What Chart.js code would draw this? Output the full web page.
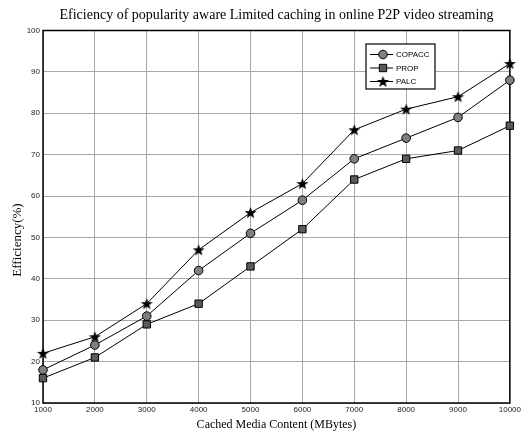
<!DOCTYPE html>
<html>
<head>
<meta charset="utf-8">
<script src="https://cdn.jsdelivr.net/npm/chart.js@4/dist/chart.umd.min.js"></script>
<style>
    html, body { margin: 0; padding: 0; background: #fff; }
    #wrap { width: 523px; height: 432px; }
</style>
</head>
<body>
<div id="wrap"><canvas id="c" width="523" height="432"></canvas></div>
<script>
const cacheSizes = ['1000', '2000', '3000', '4000', '5000', '6000', '7000', '8000', '9000', '10000'];
const copacc = [18, 24, 31, 42, 51, 59, 69, 74, 79, 88];
const prop = [16, 21, 29, 34, 43, 52, 64, 69, 71, 77];
const palc = [22, 26, 34, 47, 56, 63, 76, 81, 84, 92];

const titleText = 'Eficiency of popularity aware Limited caching in online P2P video streaming';
const yTitle = 'Efficiency(%)';
const xTitle = 'Cached Media Content (MBytes)';

const sans = "'Liberation Sans', Arial, sans-serif";
const tickFont = { family: sans, size: 8 };
const serif = "'Liberation Serif', 'Times New Roman', serif";

// filled five point star used as marker
function makeStar(R) {
    const s = Math.ceil(R * 2 + 2);
    const c = document.createElement('canvas');
    c.width = s;
    c.height = s;
    const g = c.getContext('2d');
    g.beginPath();
    for (let i = 0; i < 10; i++) {
        const r = i % 2 ? R * 0.42 : R;
        const a = -Math.PI / 2 + i * Math.PI / 5;
        g.lineTo(s / 2 + r * Math.cos(a), s / 2 + r * 0.97 * Math.sin(a) + R * 0.08);
    }
    g.closePath();
    g.fillStyle = '#000';
    g.fill();
    return c;
}
const star = makeStar(6.3);

// frame, title, y title and inner legend
const decor = {
    id: 'decor',
    beforeDatasetsDraw(chart) {
        const { ctx, chartArea: a } = chart;
        ctx.save();
        ctx.strokeStyle = '#000';
        ctx.lineWidth = 1.5;
        ctx.strokeRect(a.left, a.top, a.right - a.left, a.bottom - a.top);
        ctx.restore();
    },
    afterDraw(chart) {
        const { ctx, chartArea: a } = chart;
        ctx.save();
        ctx.fillStyle = '#000';
        ctx.textBaseline = 'middle';
        ctx.textAlign = 'center';
        ctx.font = `14px ${serif}`;
        ctx.fillText(titleText, (a.left + a.right) / 2, 15);

        ctx.translate(18, 240);
        ctx.rotate(-Math.PI / 2);
        ctx.font = `13px ${serif}`;
        ctx.fillText(yTitle, 0, 0);
        ctx.restore();

        // legend box
        ctx.save();
        const bx = 366, by = 44, bw = 69, bh = 45;
        ctx.fillStyle = '#fff';
        ctx.fillRect(bx, by, bw, bh);
        ctx.strokeStyle = '#000';
        ctx.lineWidth = 1.2;
        ctx.strokeRect(bx, by, bw, bh);
        ctx.font = `8px ${sans}`;
        ctx.textBaseline = 'middle';
        ctx.textAlign = 'left';
        chart.data.datasets.forEach((ds, i) => {
            const y = by + 10.5 + i * 13.5;
            ctx.strokeStyle = '#000';
            ctx.lineWidth = 1;
            ctx.beginPath();
            ctx.moveTo(bx + 4, y);
            ctx.lineTo(bx + 27, y);
            ctx.stroke();
            ctx.fillStyle = ds.pointBackgroundColor;
            ctx.strokeStyle = '#000';
            Chart.helpers.drawPoint(ctx, {
                pointStyle: ds.pointStyle,
                radius: ds.pointRadius,
                rotation: 0,
                borderWidth: 1
            }, bx + 17, y);
            ctx.fillStyle = '#000';
            ctx.fillText(ds.label, bx + 30, y + 0.5);
        });
        ctx.restore();
    }
};

new Chart(document.getElementById('c'), {
    type: 'line',
    data: {
        labels: cacheSizes,
        datasets: [{
            label: 'COPACC',
            data: copacc,
            borderColor: '#000',
            borderWidth: 1,
            pointStyle: 'circle',
            pointRadius: 4.3,
            pointBackgroundColor: '#808080',
            pointBorderColor: '#000',
            pointBorderWidth: 1
        }, {
            label: 'PROP',
            data: prop,
            borderColor: '#000',
            borderWidth: 1,
            pointStyle: 'rect',
            pointRadius: 5.2,
            pointBackgroundColor: '#5a5a5a',
            pointBorderColor: '#000',
            pointBorderWidth: 1
        }, {
            label: 'PALC',
            data: palc,
            borderColor: '#000',
            borderWidth: 1,
            pointStyle: star,
            pointRadius: 6,
            pointBackgroundColor: '#000',
            pointBorderColor: '#000'
        }]
    },
    options: {
        responsive: false,
        animation: false,
        layout: { padding: { top: 30.5, right: 12, left: 0, bottom: 0 } },
        plugins: {
            legend: { display: false },
            title: { display: false },
            tooltip: { enabled: false }
        },
        scales: {
            x: {
                offset: false,
                grid: { color: '#a8a8a8', lineWidth: 1, drawTicks: false },
                border: { display: false },
                ticks: { color: '#222', font: tickFont, padding: 2, maxRotation: 0, autoSkip: false },
                title: {
                    display: true,
                    text: xTitle,
                    color: '#000',
                    font: { family: serif, size: 12 },
                    padding: { top: 0, bottom: 0 }
                },
                afterFit: s => { s.height = 29; }
            },
            y: {
                min: 10,
                max: 100,
                grid: { color: '#a8a8a8', lineWidth: 1, drawTicks: false },
                border: { display: false },
                ticks: { stepSize: 10, color: '#222', font: tickFont, padding: 3 },
                afterFit: s => { s.width = 43; }
            }
        }
    },
    plugins: [decor]
});
</script>
</body>
</html>
